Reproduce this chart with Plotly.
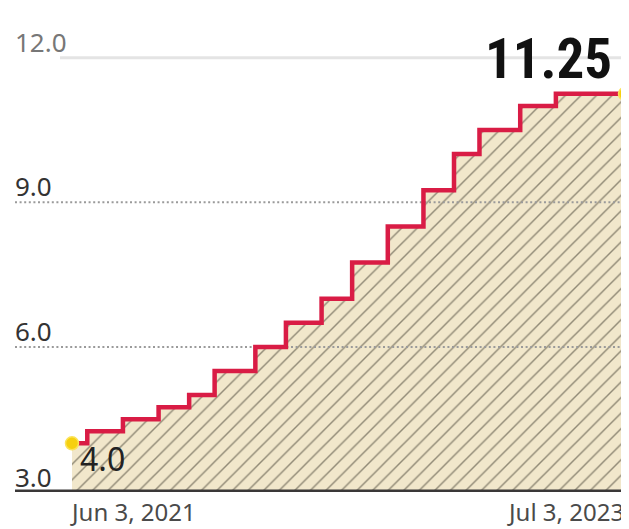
import plotly.graph_objects as go
import pandas as pd

# ---- data ----
dates = ["2021-06-03", "2021-06-24", "2021-08-12", "2021-09-30", "2021-11-11",
         "2021-12-16", "2022-02-10", "2022-03-24", "2022-05-12", "2022-06-23",
         "2022-08-11", "2022-09-29", "2022-11-10", "2022-12-15", "2023-02-09",
         "2023-03-30", "2023-07-03"]
rates = [4.0, 4.25, 4.5, 4.75, 5.0, 5.5, 6.0, 6.5, 7.0, 7.75, 8.5, 9.25,
         10.0, 10.5, 11.0, 11.25, 11.25]
y_ticks = [3.0, 6.0, 9.0, 12.0]
y_tick_labels = ["3.0", "6.0", "9.0", "12.0"]
start_label = "Jun 3, 2021"
end_label = "Jul 3, 2023"
first_value_label = "4.0"
last_value_label = "11.25"

# ---- geometry (page has an 8px body margin) ----
OFF = 8
W, H = 629 - OFF, 529 - OFF
P_BOTTOM_WIN = 492
ML, MR, MT = 7, 0, 0
MB = OFF + H - P_BOTTOM_WIN
PW, PH = W - ML - MR, H - MT - MB
P_LEFT, P_RIGHT = OFF + ML, OFF + W - MR        # in window pixels
P_TOP, P_BOTTOM = OFF + MT, OFF + H - MB

d = pd.to_datetime(dates)
span_days = (d[-1] - d[0]).days
x_first_px, x_last_px = 72, 625
ppd = (x_last_px - x_first_px) / span_days
x_lo = d[0] - pd.Timedelta(days=(x_first_px - P_LEFT) / ppd)
x_hi = d[-1] + pd.Timedelta(days=(P_RIGHT - x_last_px) / ppd)

base_px = 491.5
ppu = 48.2
y_lo = 3.0 - (P_BOTTOM - base_px) / ppu
y_hi = 3.0 + (base_px - P_TOP) / ppu


def px_x(px):
    return (px - P_LEFT) / PW


def px_y(py):
    return (P_BOTTOM - py) / PH


fig = go.Figure()

# hatched area
fig.add_trace(go.Scatter(
    x=d, y=rates, mode="lines", line=dict(shape="hv", width=0, color="#f1e7cb"),
    fill="tozeroy", fillcolor="#f1e7cb",
    fillpattern=dict(shape="/", bgcolor="#f1e7cb", fgcolor="#857f6c",
                     fgopacity=0.9, size=11, solidity=0.13),
    hoverinfo="skip", showlegend=False))

# dotted gridlines (above fill, below line)
for v in y_ticks:
    if v in (6.0, 9.0):
        fig.add_trace(go.Scatter(
            x=[x_lo, x_hi], y=[v, v], mode="lines",
            line=dict(color="#9a9a9a", width=2, dash="2px,2.6px"),
            hoverinfo="skip", showlegend=False))

# step line
fig.add_trace(go.Scatter(
    x=d, y=rates, mode="lines", line=dict(shape="hv", width=4.5, color="#d91c45"),
    hoverinfo="skip", showlegend=False))

# end markers
fig.add_trace(go.Scatter(
    x=[d[0], d[-1]], y=[rates[0], rates[-1]], mode="markers",
    marker=dict(size=13, color="#f6d00f", line=dict(width=1.5, color="#fbe35a")),
    hoverinfo="skip", showlegend=False, cliponaxis=False))

shapes = [
    dict(type="line", xref="paper", yref="y", x0=px_x(60), x1=1, y0=12, y1=12,
         line=dict(color="#e4e4e4", width=3), layer="below"),
    dict(type="line", xref="paper", yref="y", x0=0, x1=1, y0=3.0, y1=3.0,
         line=dict(color="#3a3838", width=4), layer="above"),
]

FONT = "Noto Sans, Open Sans, DejaVu Sans, sans-serif"
BIG_FONT = ("Noto Sans ExtraCondensed, Noto Sans Condensed, Roboto Condensed, "
            "Liberation Sans Narrow, DejaVu Sans Condensed, sans-serif")
annotations = []
tick_centers = {3.0: 477, 6.0: 331, 9.0: 186, 12.0: 42}
for v, lab in zip(y_ticks, y_tick_labels):
    annotations.append(dict(
        text=lab, xref="paper", yref="paper", x=px_x(13), y=px_y(tick_centers[v]),
        xanchor="left", yanchor="middle", showarrow=False,
        font=dict(family=FONT, size=26, color="#777777" if v == 12.0 else "#333333")))

annotations += [
    dict(text=first_value_label, xref="paper", yref="paper", x=px_x(78), y=px_y(458),
         xanchor="left", yanchor="middle", showarrow=False,
         font=dict(family=FONT, size=32, color="#222222")),
    dict(text=start_label, xref="paper", yref="paper", x=px_x(69), y=px_y(OFF + H),
         xanchor="left", yanchor="bottom", showarrow=False, borderpad=0,
         font=dict(family=FONT, size=24, color="#4a4a4a")),
    dict(text=end_label, xref="paper", yref="paper", x=px_x(625), y=px_y(OFF + H),
         xanchor="right", yanchor="bottom", showarrow=False, borderpad=0,
         font=dict(family=FONT, size=24, color="#4a4a4a")),
    dict(text="<b>" + last_value_label + "</b>", xref="paper", yref="paper",
         x=px_x(614), y=px_y(59), xanchor="right", yanchor="middle", showarrow=False,
         font=dict(family=BIG_FONT, size=55, color="#111111")),
]

fig.update_layout(
    width=W, height=H, margin=dict(l=ML, r=MR, t=MT, b=MB, pad=0),
    paper_bgcolor="white", plot_bgcolor="white",
    xaxis=dict(range=[x_lo, x_hi], visible=False, showgrid=False, zeroline=False),
    yaxis=dict(range=[y_lo, y_hi], visible=False, showgrid=False, zeroline=False),
    shapes=shapes, annotations=annotations, showlegend=False,
)

fig.write_html("out.html")
